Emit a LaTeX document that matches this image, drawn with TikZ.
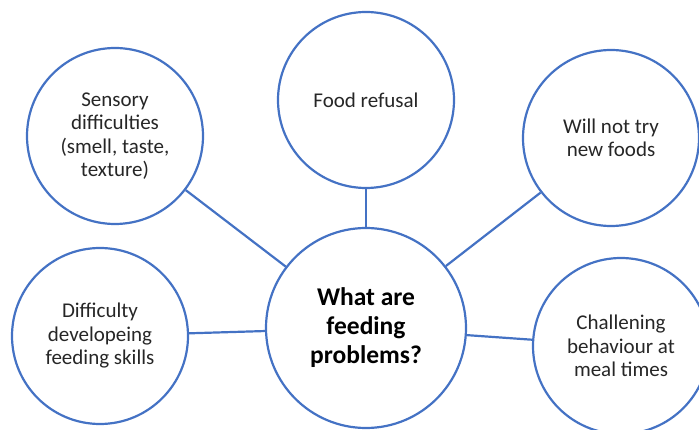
\documentclass[tikz,border=0pt]{standalone}
\usepackage{fontspec}
\setmainfont{Carlito}
\definecolor{bblue}{HTML}{4472C4}
\definecolor{txt}{HTML}{262626}
\begin{document}
\begin{tikzpicture}[x=1pt,y=-1pt,
  bub/.style={circle, draw=bblue, line width=2.2pt, minimum size=176pt, inner sep=0pt,
    align=center, text=txt, font=\fontsize{21}{23.5}\selectfont},
  hub/.style={bub, minimum size=200pt, text=black, font=\bfseries\fontsize{25.5}{29}\selectfont},
  link/.style={draw=bblue, line width=2.2pt}]
\useasboundingbox (0,0) rectangle (699,430);
\node[hub] (main) at (366,328) {What are\\feeding\\problems?};
\node[bub] (sens) at (115,136) {Sensory\\difficulties\\(smell, taste,\\texture)};
\node[bub] (food) at (366,100) {Food refusal};
\node[bub] (will) at (611,138) {Will not try\\new foods};
\node[bub] (diff) at (100,336) {Difficulty\\developeing\\feeding skills};
\node[bub] (chal) at (621,346) {Challening\\behaviour at\\meal times};
\draw[link] (sens) -- (main);
\draw[link] (food) -- (main);
\draw[link] (will) -- (main);
\draw[link] (diff) -- (main);
\draw[link] (main) -- (chal);
\end{tikzpicture}
\end{document}
